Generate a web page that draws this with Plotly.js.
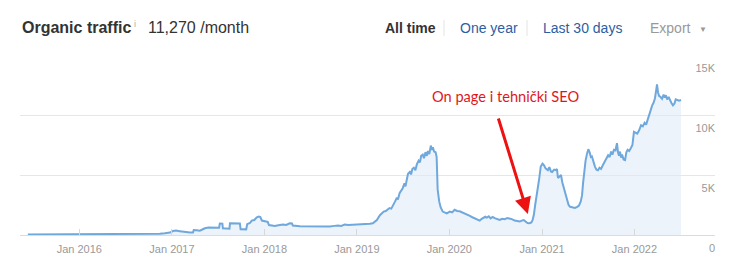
<!DOCTYPE html>
<html>
<head>
<meta charset="utf-8">
<script src="https://cdn.plot.ly/plotly-3.0.1.min.js"></script>
<style>
  html, body { margin: 0; padding: 0; background: #fff; }
  #chart { width: 735px; height: 273px; }
</style>
</head>
<body>
<div id="chart"></div>
<script>
// ---- Data ----
const dates = [
  '2015-06-12','2015-09-01','2015-12-20','2016-03-23','2016-06-15','2016-08-28','2016-10-20','2016-11-14','2016-12-04','2016-12-24',
  '2017-01-05','2017-01-17','2017-02-01','2017-02-13','2017-03-13','2017-03-25','2017-03-28','2017-04-08','2017-04-21','2017-05-05',
  '2017-05-11','2017-05-25','2017-06-08','2017-06-20','2017-07-06','2017-07-09','2017-07-19','2017-07-21','2017-08-04','2017-08-16',
  '2017-08-18','2017-09-10','2017-09-26','2017-09-29','2017-10-21','2017-10-25','2017-11-05','2017-11-12','2017-11-22','2017-12-02',
  '2017-12-10','2017-12-16','2017-12-22','2018-01-07','2018-01-14','2018-01-19','2018-02-11','2018-02-25','2018-03-15','2018-03-28',
  '2018-04-11','2018-04-20','2018-04-23','2018-05-21','2018-06-29','2018-08-08','2018-09-16','2018-10-05','2018-10-18','2018-11-01',
  '2018-11-14','2018-11-28','2018-12-24','2019-01-10','2019-01-21','2019-02-05','2019-02-21','2019-03-05','2019-03-14','2019-03-21',
  '2019-04-02','2019-04-10','2019-04-17','2019-04-25','2019-05-03','2019-05-10','2019-05-17','2019-05-23','2019-06-01','2019-06-08',
  '2019-06-12','2019-06-19','2019-06-25','2019-07-01','2019-07-08','2019-07-12','2019-07-17','2019-07-22','2019-07-29','2019-08-03',
  '2019-08-08','2019-08-14','2019-08-20','2019-08-26','2019-09-02','2019-09-07','2019-09-12','2019-09-18','2019-09-23','2019-09-29',
  '2019-10-04','2019-10-09','2019-10-14','2019-10-20','2019-10-24','2019-10-28','2019-11-02','2019-11-08','2019-11-12','2019-11-16',
  '2019-11-22','2019-11-28','2019-12-06','2019-12-14','2019-12-22','2020-01-03','2020-01-12','2020-01-22','2020-02-01','2020-02-11',
  '2020-02-20','2020-03-02','2020-03-12','2020-03-22','2020-04-01','2020-04-10','2020-04-20','2020-04-30','2020-05-08','2020-05-14',
  '2020-05-22','2020-05-28','2020-06-05','2020-06-12','2020-06-20','2020-06-28','2020-07-08','2020-07-18','2020-07-28','2020-08-07',
  '2020-08-17','2020-08-27','2020-09-06','2020-09-15','2020-09-25','2020-10-05','2020-10-13','2020-10-21','2020-10-28','2020-11-05',
  '2020-11-13','2020-11-20','2020-11-25','2020-11-30','2020-12-05','2020-12-11','2020-12-16','2020-12-21','2020-12-27','2021-01-03',
  '2021-01-09','2021-01-15','2021-01-24','2021-01-30','2021-02-05','2021-02-10','2021-02-18','2021-02-25','2021-03-01','2021-03-05',
  '2021-03-12','2021-03-17','2021-03-22','2021-03-28','2021-04-04','2021-04-10','2021-04-16','2021-04-22','2021-05-01','2021-05-11',
  '2021-05-20','2021-05-27','2021-06-03','2021-06-08','2021-06-12','2021-06-16','2021-06-22','2021-06-28','2021-07-03','2021-07-08',
  '2021-07-13','2021-07-17','2021-07-23','2021-07-29','2021-08-04','2021-08-10','2021-08-16','2021-08-22','2021-08-30','2021-09-06',
  '2021-09-12','2021-09-19','2021-09-25','2021-10-01','2021-10-06','2021-10-12','2021-10-18','2021-10-24','2021-10-28','2021-11-01',
  '2021-11-05','2021-11-09','2021-11-13','2021-11-19','2021-11-25','2021-11-30','2021-12-05','2021-12-11','2021-12-18','2021-12-24',
  '2021-12-30','2022-01-06','2022-01-12','2022-01-19','2022-01-27','2022-02-03','2022-02-10','2022-02-16','2022-02-23','2022-03-01',
  '2022-03-07','2022-03-12','2022-03-17','2022-03-23','2022-03-28','2022-03-31','2022-04-04','2022-04-08','2022-04-14','2022-04-20',
  '2022-04-26','2022-05-01','2022-05-05','2022-05-10','2022-05-16','2022-05-21','2022-05-27','2022-06-02','2022-06-08','2022-06-13',
  '2022-06-18','2022-06-26','2022-07-04'
];
const traffic = [
  40, 45, 55, 50, 55, 60, 70, 110, 150, 200,
  330, 370, 320, 270, 200, 200, 420, 400, 360, 500,
  560, 620, 600, 640, 610, 960, 950, 560, 540, 530,
  970, 975, 960, 480, 470, 900, 1000, 1200, 1250, 1480,
  1540, 1500, 1200, 1130, 1100, 830, 760, 820, 880, 840,
  980, 960, 790, 730, 700, 680, 700, 760, 800, 760,
  880, 840, 860, 930, 900, 950, 930, 980, 1100, 1250,
  1650, 1850, 1950, 2000, 2100, 2250, 2200, 2400, 2800, 3100,
  2950, 3500, 3700, 3900, 4300, 4050, 4600, 5100, 5250, 5050,
  5500, 5600, 5400, 5900, 6200, 6050, 6600, 6700, 6400, 6900,
  6600, 7000, 6750, 7450, 7100, 7300, 6950, 6900, 6500, 3800,
  2800, 2300, 1950, 1900, 1800, 1950, 1880, 2100, 2000, 1980,
  1900, 1820, 1700, 1600, 1480, 1400, 1250, 1200, 1350, 1420,
  1520, 1450, 1550, 1380, 1500, 1400, 1300, 1250, 1350, 1320,
  1420, 1380, 1300, 1200, 1150, 1120, 1200, 1250, 1120, 1000,
  980, 1050, 1250, 1700, 2500, 3200, 3900, 4700, 5700, 5950,
  5800, 5550, 5400, 5650, 5300, 5250, 5450, 5400, 5500, 4750,
  4900, 5000, 4400, 3900, 3400, 2950, 2500, 2350, 2300, 2250,
  2350, 2450, 2800, 3300, 4300, 5200, 6200, 6800, 7150, 6900,
  6500, 6550, 6000, 5700, 5450, 5400, 5600, 5500, 5850, 6100,
  6400, 6650, 6500, 6950, 6700, 7100, 7050, 7650, 6900, 6600,
  6950, 6450, 6700, 6300, 6250, 6900, 7100, 7000, 7250, 7500,
  8600, 8500, 8450, 8700, 9150, 9050, 9350, 9200, 9700, 10000,
  10400, 10800, 11000, 11400, 12100, 12550, 11900, 11600, 11500, 11350,
  11700, 11450, 11650, 11300, 11500, 11200, 11000, 10800, 10950, 11300,
  11250, 11200, 11250
];
const yTickVals = [0, 5000, 10000, 15000];
const yTickText = ['0', '5K', '10K', '15K'];
const xRange = ['2015-05-12', '2022-11-15'];
const yRange = [0, 15000];
const headerLabels = {
  title: 'Organic traffic', info: 'i', value: '11,270 /month',
  allTime: 'All time', oneYear: 'One year', last30: 'Last 30 days', exportTxt: 'Export', caret: '▼'
};
const noteText = 'On page i tehnički SEO';

// ---- helpers for pixel-based header placement (plot area: x 20..715, y 55..235) ----
const L = 20, R = 715, T = 55, B = 235;
const px = x => (x - L) / (R - L);
const py = y => (B - y) / (B - T);

const FONT = 'Liberation Sans, Arial, sans-serif';

const trace = {
  x: dates, y: traffic, type: 'scatter', mode: 'lines',
  line: { color: '#6fa8dc', width: 2, shape: 'linear' },
  fill: 'tozeroy', fillcolor: 'rgba(220,234,248,0.55)',
  hoverinfo: 'skip', showlegend: false
};

function hdr(text, x, y, opts) {
  return Object.assign({
    text: text, xref: 'paper', yref: 'paper', x: px(x), y: py(y),
    xanchor: 'left', yanchor: 'middle', showarrow: false,
    font: { family: FONT, size: 14, color: '#333' }, borderpad: 0
  }, opts || {});
}

const layout = {
  width: 735, height: 273,
  margin: { l: L, r: 735 - R, t: T, b: 273 - B },
  paper_bgcolor: '#fff', plot_bgcolor: '#fff',
  showlegend: false,
  xaxis: {
    type: 'date', range: xRange,
    tick0: '2016-01-01', dtick: 'M12', tickformat: '%b %Y',
    ticks: 'inside', ticklen: 6, tickcolor: '#d8d8d8', tickwidth: 1,
    showgrid: false, zeroline: false,
    showline: true, linecolor: '#dcdcdc', linewidth: 1,
    tickfont: { family: FONT, size: 11, color: '#999' },
    ticklabelstandoff: 4,
    fixedrange: true
  },
  yaxis: {
    range: yRange, tickvals: yTickVals, ticktext: yTickText,
    showticklabels: false, ticks: '',
    showgrid: true, gridcolor: '#e6e6e6', gridwidth: 1,
    zeroline: false, showline: false, fixedrange: true
  },
  yaxis2: {
    overlaying: 'y', anchor: 'free', position: 1, side: 'left',
    range: yRange, tickvals: yTickVals, ticktext: yTickText,
    showgrid: false, zeroline: false, showline: false, ticks: '',
    tickfont: { family: FONT, size: 11, color: '#999' },
    ticklabelshift: 13, ticklabelstandoff: 0, fixedrange: true
  },
  shapes: [
    { type: 'line', xref: 'paper', yref: 'paper', x0: px(444), x1: px(444), y0: py(20), y1: py(36),
      line: { color: '#e3e3e3', width: 1 } },
    { type: 'line', xref: 'paper', yref: 'paper', x0: px(527), x1: px(527), y0: py(20), y1: py(36),
      line: { color: '#e3e3e3', width: 1 } }
  ],
  annotations: [
    hdr('<b>' + headerLabels.title + '</b>', 21, 27, { font: { family: FONT, size: 16, color: '#333' } }),
    hdr(headerLabels.info, 132.5, 24, { font: { family: FONT, size: 9, color: '#aaa' } }),
    hdr(headerLabels.value, 147, 27, { font: { family: FONT, size: 16, color: '#333' } }),
    hdr('<b>' + headerLabels.allTime + '</b>', 384, 28, { font: { family: FONT, size: 14, color: '#333' } }),
    hdr(headerLabels.oneYear, 459, 28, { font: { family: FONT, size: 14, color: '#2c5ea3' } }),
    hdr(headerLabels.last30, 542, 28, { font: { family: FONT, size: 14, color: '#2c5ea3' } }),
    hdr(headerLabels.exportTxt, 649, 28, { font: { family: FONT, size: 14, color: '#999' } }),
    hdr(headerLabels.caret, 698, 29, { font: { family: FONT, size: 8, color: '#999' } }),
    { text: noteText, xref: 'x', yref: 'y', x: '2020-08-11', y: 11583,
      xanchor: 'center', yanchor: 'middle', showarrow: false,
      font: { family: 'Lato, sans-serif', size: 14.6, color: '#e0161e' } },
    { text: '', xref: 'x', yref: 'y', x: '2020-11-06', y: 1750,
      axref: 'x', ayref: 'y', ax: '2020-07-11', ay: 9833,
      showarrow: true, arrowhead: 2, arrowsize: 1.1, arrowwidth: 3, arrowcolor: '#ee1111', standoff: 0 }
  ]
};

// second, invisible trace on the same values so the right-hand label axis (yaxis2) is drawn
const trace2 = {
  x: dates, y: traffic, yaxis: 'y2', type: 'scatter', mode: 'lines',
  line: { width: 0, color: 'rgba(0,0,0,0)' }, hoverinfo: 'skip', showlegend: false
};

Plotly.newPlot('chart', [trace, trace2], layout, { staticPlot: true, displayModeBar: false });
</script>
</body>
</html>
